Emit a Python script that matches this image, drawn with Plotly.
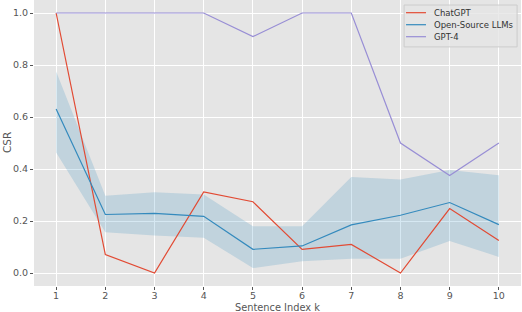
import plotly.graph_objects as go

k = [1, 2, 3, 4, 5, 6, 7, 8, 9, 10]
chatgpt = [1.0, 0.071, 0.0, 0.312, 0.274, 0.091, 0.11, 0.0, 0.248, 0.125]
open_mean = [0.631, 0.225, 0.229, 0.218, 0.091, 0.104, 0.185, 0.222, 0.271, 0.186]
open_upper = [0.775, 0.297, 0.311, 0.302, 0.18, 0.18, 0.369, 0.36, 0.396, 0.376]
open_lower = [0.463, 0.157, 0.144, 0.136, 0.019, 0.045, 0.055, 0.055, 0.123, 0.062]
gpt4 = [1.0, 1.0, 1.0, 1.0, 0.909, 1.0, 1.0, 0.5, 0.375, 0.5]
series_names = ["ChatGPT", "Open-Source LLMs", "GPT-4"]

RED = "#E24A33"
BLUE = "#348ABD"
PURPLE = "#988ED5"
colors = [RED, BLUE, PURPLE]

fig = go.Figure()
fig.add_trace(go.Scatter(x=k, y=open_upper, mode="lines", line=dict(width=0),
                         showlegend=False, hoverinfo="skip"))
fig.add_trace(go.Scatter(x=k, y=open_lower, mode="lines", line=dict(width=0),
                         fill="tonexty", fillcolor="rgba(52,138,189,0.2)",
                         showlegend=False, hoverinfo="skip"))
for name, ys, c in zip(series_names, [chatgpt, open_mean, gpt4], colors):
    fig.add_trace(go.Scatter(x=k, y=ys, mode="lines", name=name,
                             line=dict(color=c, width=1.2), showlegend=False))

axis_common = dict(showgrid=True, gridcolor="white", gridwidth=1, zeroline=False,
                   ticks="outside", ticklen=3, tickcolor="#555555",
                   tickfont=dict(family="DejaVu Sans", size=9.5, color="#555555"),
                   showline=False, automargin=False)

# manual compact legend (matplotlib-like), positioned in paper coordinates
shapes = [dict(type="rect", xref="paper", yref="paper", x0=0.760, x1=0.992,
               y0=0.836, y1=0.9825, fillcolor="rgba(229,229,229,0.8)",
               line=dict(color="#CCCCCC", width=1), layer="above")]
annotations = [
    dict(text="Sentence Index k", xref="paper", yref="paper", x=0.5, y=0,
         xanchor="center", yanchor="top", yshift=-13.5, showarrow=False,
         font=dict(family="DejaVu Sans", size=9.8, color="#555555")),
    dict(text="CSR", xref="paper", yref="paper", x=0, y=0.5,
         xanchor="center", yanchor="middle", xshift=-27, textangle=-90,
         showarrow=False,
         font=dict(family="DejaVu Sans", size=10.5, color="#555555")),
]
row_y = [0.9556, 0.9136, 0.8717]
for name, c, yy in zip(series_names, colors, row_y):
    shapes.append(dict(type="line", xref="paper", yref="paper", x0=0.7639, x1=0.8049,
                       y0=yy, y1=yy, line=dict(color=c, width=1.2), layer="above"))
    annotations.append(dict(text=name, xref="paper", yref="paper", x=0.818, y=yy,
                            xanchor="left", yanchor="middle", showarrow=False,
                            font=dict(family="DejaVu Sans", size=8.5, color="#333333")))

fig.update_layout(
    width=522, height=312,
    margin=dict(l=34, r=1, t=0, b=26, autoexpand=False),
    paper_bgcolor="white", plot_bgcolor="#E5E5E5",
    font=dict(family="DejaVu Sans", size=10, color="#555555"),
    xaxis=dict(range=[0.55, 10.45], tickmode="array", tickvals=k,
               ticklabelstandoff=-2, **axis_common),
    yaxis=dict(range=[-0.05, 1.05], tickmode="array",
               tickvals=[0.0, 0.2, 0.4, 0.6, 0.8, 1.0],
               ticktext=["0.0", "0.2", "0.4", "0.6", "0.8", "1.0"],
               **axis_common),
    showlegend=False,
    shapes=shapes,
    annotations=annotations,
)

fig.write_html("out.html", config={"displayModeBar": False},
               post_script="document.body.style.margin='0';")
